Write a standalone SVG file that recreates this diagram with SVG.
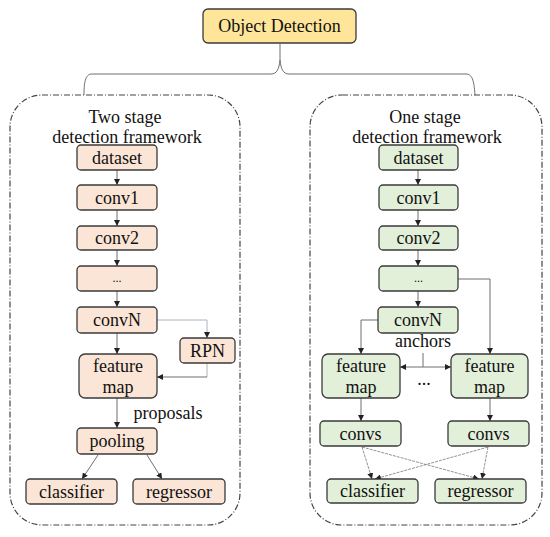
<svg xmlns="http://www.w3.org/2000/svg" width="550" height="537" viewBox="0 0 550 537">
<defs>
<style>
text{font-family:"Liberation Serif","Times New Roman",serif;font-size:18px;fill:#111;text-anchor:middle}
.nl rect{fill:#fbe5d6;stroke:#3a3a3a;stroke-width:1.3}
.nr rect{fill:#e2efd9;stroke:#3a3a3a;stroke-width:1.3}
.frame{fill:none;stroke:#444;stroke-width:1.2;stroke-dasharray:6 2 1 2}
.c{fill:none;stroke:#6f6f6f;stroke-width:1}
.cb{fill:none;stroke:#a9b4c2;stroke-width:1}
.cx{fill:none;stroke:#777;stroke-width:0.8;stroke-dasharray:3 1}
</style>
<marker id="ah" markerWidth="6" markerHeight="6" refX="6" refY="3" orient="auto" markerUnits="userSpaceOnUse">
<path d="M0,0 L6,3 L0,6 Z" fill="#222"/>
</marker>
</defs>
<rect width="550" height="537" fill="#fff"/>

<g id="top">
<rect x="203" y="9" width="153" height="34" rx="5" fill="#fee599" stroke="#3a3a3a" stroke-width="1.3"/>
<text x="279.5" y="32">Object Detection</text>
</g>

<g id="brace">
<path class="c" d="M280,43 L280,60 C281,69 283,74 289,74 L466,74 C472,74 474,80 475,95"/>
<path class="c" d="M280,60 C279,69 277,74 271,74 L92,74 C86,74 84,80 84,95"/>
</g>

<g id="frame-left">
<rect class="frame" x="10" y="95" width="230" height="430" rx="32"/>
<text x="125" y="123">Two stage</text>
<text x="127" y="143">detection framework</text>
</g>
<g id="frame-right">
<rect class="frame" x="310" y="95" width="232" height="430" rx="32"/>
<text x="425" y="123">One stage</text>
<text x="427" y="143">detection framework</text>
</g>

<g id="connectors">
<!-- left -->
<path class="c" d="M117,170 V185" marker-end="url(#ah)"/>
<path class="c" d="M117,210 V226" marker-end="url(#ah)"/>
<path class="c" d="M117,250 V266" marker-end="url(#ah)"/>
<path class="c" d="M117,291 V307" marker-end="url(#ah)"/>
<path class="c" d="M117,333 V354" marker-end="url(#ah)"/>
<path class="cb" d="M157,320 H207 V338" marker-end="url(#ah)"/>
<path class="cb" d="M207,363 V377"/>
<path class="c" d="M207,377 H157" marker-end="url(#ah)"/>
<path class="c" d="M117,398 V428" marker-end="url(#ah)"/>
<path class="c" d="M98,455 L82,479" marker-end="url(#ah)"/>
<path class="c" d="M147,455 L162,479" marker-end="url(#ah)"/>
<!-- right -->
<path class="c" d="M418,170 V185" marker-end="url(#ah)"/>
<path class="c" d="M418,210 V226" marker-end="url(#ah)"/>
<path class="c" d="M418,250 V266" marker-end="url(#ah)"/>
<path class="c" d="M418,291 V307" marker-end="url(#ah)"/>
<path class="c" d="M378,320 H361 V354" marker-end="url(#ah)"/>
<path class="c" d="M458,279 H490 V354" marker-end="url(#ah)"/>
<path class="c" d="M423,353 V367"/>
<path class="c" d="M423,367 H400" marker-end="url(#ah)"/>
<path class="c" d="M423,367 H451" marker-end="url(#ah)"/>
<path class="c" d="M361,398 V421" marker-end="url(#ah)"/>
<path class="c" d="M490,398 V421" marker-end="url(#ah)"/>
<path class="cx" d="M362,447 L372,479" marker-end="url(#ah)"/>
<path class="cx" d="M362,447 L479,479" marker-end="url(#ah)"/>
<path class="cx" d="M488,447 L375,479" marker-end="url(#ah)"/>
<path class="cx" d="M488,447 L482,479" marker-end="url(#ah)"/>
</g>

<g id="l-dataset" class="nl"><rect x="77" y="145" width="80" height="25" rx="4"/><text x="117" y="164">dataset</text></g>
<g id="l-conv1" class="nl"><rect x="77" y="185" width="80" height="25" rx="4"/><text x="117" y="204">conv1</text></g>
<g id="l-conv2" class="nl"><rect x="77" y="226" width="80" height="24" rx="4"/><text x="117" y="244">conv2</text></g>
<g id="l-dots" class="nl"><rect x="77" y="266" width="80" height="25" rx="4"/><text x="117" y="282" style="font-size:12px">...</text></g>
<g id="l-convN" class="nl"><rect x="77" y="307" width="80" height="26" rx="4"/><text x="117" y="326">convN</text></g>
<g id="l-rpn" class="nl"><rect x="180" y="338" width="55" height="25" rx="4"/><text x="207.5" y="357">RPN</text></g>
<g id="l-fmap" class="nl"><rect x="79" y="354" width="78" height="44" rx="6"/><text x="118" y="372">feature</text><text x="118" y="393">map</text></g>
<text x="168" y="419">proposals</text>
<g id="l-pooling" class="nl"><rect x="77" y="428" width="80" height="26" rx="4"/><text x="117" y="447">pooling</text></g>
<g id="l-classifier" class="nl"><rect x="26" y="479" width="91" height="25" rx="4"/><text x="71.5" y="498">classifier</text></g>
<g id="l-regressor" class="nl"><rect x="133" y="479" width="92" height="25" rx="4"/><text x="179" y="498">regressor</text></g>

<g id="r-dataset" class="nr"><rect x="379" y="145" width="79" height="25" rx="4"/><text x="418.5" y="164">dataset</text></g>
<g id="r-conv1" class="nr"><rect x="379" y="185" width="79" height="25" rx="4"/><text x="418.5" y="204">conv1</text></g>
<g id="r-conv2" class="nr"><rect x="379" y="226" width="79" height="24" rx="4"/><text x="418.5" y="244">conv2</text></g>
<g id="r-dots" class="nr"><rect x="379" y="266" width="79" height="25" rx="4"/><text x="418.5" y="282" style="font-size:12px">...</text></g>
<g id="r-convN" class="nr"><rect x="378" y="307" width="80" height="26" rx="4"/><text x="418" y="326">convN</text></g>
<text x="423" y="347">anchors</text>
<g id="r-fmap1" class="nr"><rect x="322" y="354" width="78" height="44" rx="6"/><text x="361" y="372">feature</text><text x="361" y="393">map</text></g>
<text x="424" y="385">...</text>
<g id="r-fmap2" class="nr"><rect x="451" y="354" width="77" height="44" rx="6"/><text x="489.5" y="372">feature</text><text x="489.5" y="393">map</text></g>
<g id="r-convs1" class="nr"><rect x="320" y="421" width="81" height="25" rx="4"/><text x="360.5" y="440">convs</text></g>
<g id="r-convs2" class="nr"><rect x="448" y="421" width="81" height="25" rx="4"/><text x="488.5" y="440">convs</text></g>
<g id="r-classifier" class="nr"><rect x="327" y="479" width="91" height="24" rx="4"/><text x="372.5" y="497">classifier</text></g>
<g id="r-regressor" class="nr"><rect x="435" y="479" width="91" height="24" rx="4"/><text x="480.5" y="497">regressor</text></g>
</svg>
